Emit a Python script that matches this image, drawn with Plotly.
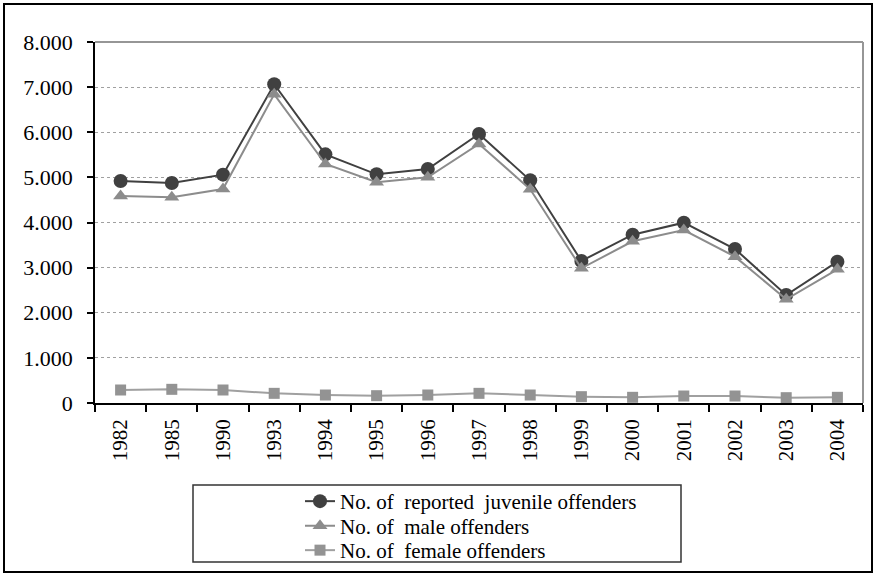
import plotly.graph_objects as go

# Juvenile offender counts by year
years = ["1982", "1985", "1990", "1993", "1994", "1995", "1996", "1997",
         "1998", "1999", "2000", "2001", "2002", "2003", "2004"]
total_offenders = [4920, 4875, 5060, 7063, 5510, 5068, 5185, 5961, 4935,
                   3147, 3730, 3996, 3413, 2393, 3131]
male_offenders = [4587, 4558, 4742, 6841, 5296, 4891, 5002, 5740, 4736,
                  2985, 3583, 3834, 3243, 2298, 2962]
female_offenders = [288, 303, 288, 214, 177, 162, 177, 214, 177,
                    140, 126, 155, 155, 118, 126]
y_ticks = [0, 1000, 2000, 3000, 4000, 5000, 6000, 7000, 8000]

FONT = "'Liberation Serif', 'Times New Roman', Times, serif"

# plot-area geometry in pixels, used to place frames in paper coordinates
W, H = 874, 576
L, R, T, B = 95, 863, 42, 403


def px(x):
    return (x - L) / (R - L)


def py(y):
    return (B - y) / (B - T)


fig = go.Figure()
fig.add_trace(go.Scatter(
    x=years, y=total_offenders, mode="lines+markers",
    name="No. of  reported  juvenile offenders", legend="legend",
    line=dict(color="#404040", width=2),
    marker=dict(symbol="circle", size=14, color="#404040"),
))
fig.add_trace(go.Scatter(
    x=years, y=male_offenders, mode="lines+markers",
    name="No. of  male offenders", legend="legend2",
    line=dict(color="#8c8c8c", width=2),
    marker=dict(symbol="triangle-up", size=13, color="#8c8c8c"),
))
fig.add_trace(go.Scatter(
    x=years, y=female_offenders, mode="lines+markers",
    name="No. of  female offenders", legend="legend3",
    line=dict(color="#a0a0a0", width=2),
    marker=dict(symbol="square", size=11, color="#939393"),
))

shapes = [
    # outer chart frame
    dict(type="rect", xref="paper", yref="paper",
         x0=px(4), x1=px(872), y0=py(572), y1=py(4),
         line=dict(color="black", width=2), layer="below"),
    # top and right edges of the plot area
    dict(type="line", xref="paper", yref="paper",
         x0=0, x1=1, y0=1, y1=1, line=dict(color="#969696", width=2)),
    dict(type="line", xref="paper", yref="paper",
         x0=1, x1=1, y0=0, y1=1, line=dict(color="#969696", width=2)),
    # legend frame
    dict(type="rect", xref="paper", yref="paper",
         x0=px(193), x1=px(681), y0=py(562), y1=py(485),
         line=dict(color="#333333", width=1.5)),
]


def legend_row(y_px):
    # one legend per row so the rows sit closer than plotly's default spacing
    return dict(
        x=px(300), y=py(y_px), xanchor="left", yanchor="middle",
        bgcolor="rgba(0,0,0,0)", borderwidth=0,
        font=dict(family=FONT, size=21, color="black"),
    )


fig.update_layout(
    width=W, height=H,
    margin=dict(l=L, r=W - R, t=T, b=H - B, autoexpand=False),
    paper_bgcolor="white", plot_bgcolor="white",
    separators=",.",
    font=dict(family=FONT, size=21, color="black"),
    showlegend=True,
    legend=legend_row(501.5),
    legend2=legend_row(526),
    legend3=legend_row(550.5),
    shapes=shapes,
)

fig.update_xaxes(
    type="category", tickangle=-90, tickson="boundaries",
    ticks="outside", ticklen=7, tickcolor="black", tickwidth=1.5,
    showline=True, linecolor="black", linewidth=1.5,
    showgrid=False, zeroline=False, automargin=False,
    tickfont=dict(family=FONT, size=21, color="black"),
    ticklabelstandoff=6,
    range=[-0.5, len(years) - 0.5],
)
fig.update_yaxes(
    range=[0, 8000], tickvals=y_ticks, tickformat=",d",
    ticks="outside", ticklen=6, tickcolor="black", tickwidth=1.5,
    showline=True, linecolor="black", linewidth=1.5,
    showgrid=True, gridcolor="#a0a0a0", gridwidth=1, griddash="dot",
    zeroline=False, automargin=False,
    tickfont=dict(family=FONT, size=22, color="black"),
    ticklabelstandoff=10,
)

fig.write_html("out.html")
